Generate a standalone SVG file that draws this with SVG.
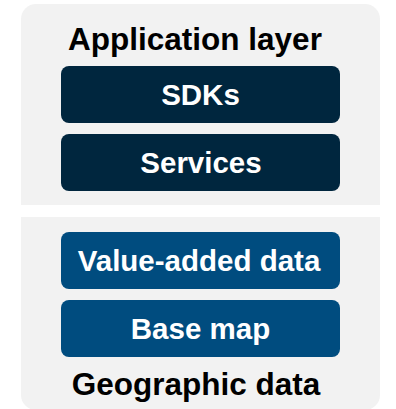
<svg xmlns="http://www.w3.org/2000/svg" width="396" height="409" viewBox="0 0 396 409">
<style>
.panel{fill:#f2f2f2}
.dark{fill:#00263e}
.blue{fill:#004c7f}
.t{font-family:"Liberation Sans",Arial,sans-serif;font-weight:bold;text-anchor:middle}
.head{font-size:31.5px;fill:#000}
.lbl{font-size:29.5px;fill:#fff}
</style>
<rect width="396" height="409" fill="#fff"/>
<g id="application-layer">
<path class="panel" d="M21,205 V19 A15,15 0 0 1 36,4 H365 A15,15 0 0 1 380,19 V205 Z"/>
<text class="t head" x="195" y="50">Application layer</text>
</g>
<g id="sdks">
<rect class="dark" x="61" y="66" width="279" height="57" rx="8"/>
<text class="t lbl" x="200.5" y="105">SDKs</text>
</g>
<g id="services">
<rect class="dark" x="61" y="134" width="279" height="57" rx="8"/>
<text class="t lbl" x="201" y="173">Services</text>
</g>
<g id="geographic-data">
<path class="panel" d="M21,217 H380 V395 A15,15 0 0 1 365,410 H36 A15,15 0 0 1 21,395 Z"/>
<text class="t head" x="196" y="395">Geographic data</text>
</g>
<g id="value-added-data">
<rect class="blue" x="61" y="232" width="279" height="57" rx="8"/>
<text class="t lbl" x="199" y="271">Value-added data</text>
</g>
<g id="base-map">
<rect class="blue" x="61" y="300" width="279" height="57" rx="8"/>
<text class="t lbl" x="200.5" y="339">Base map</text>
</g>
<g id="connectors"/>
</svg>
